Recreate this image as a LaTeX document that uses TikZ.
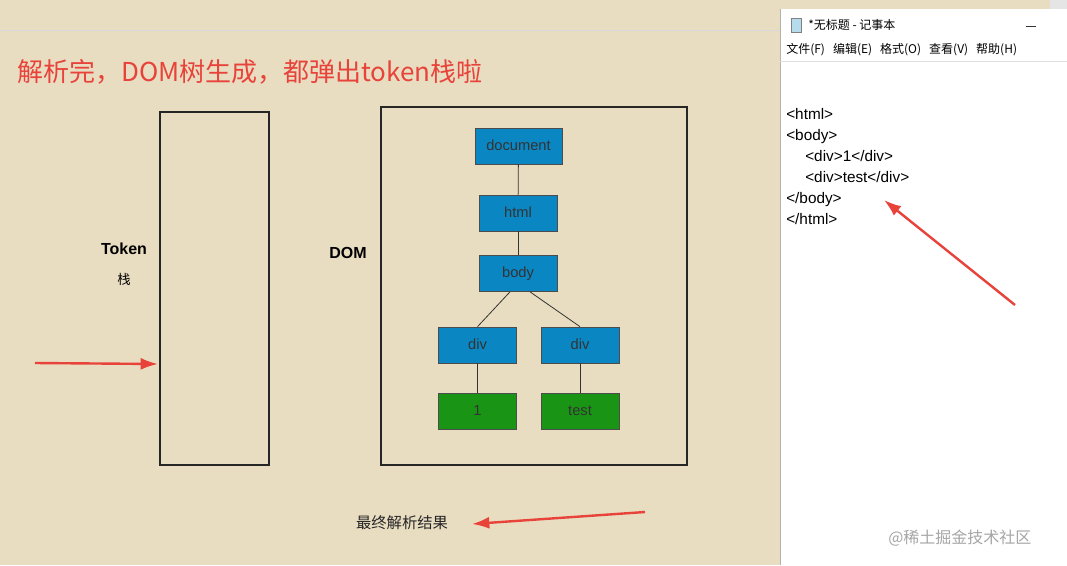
\documentclass[tikz,border=0pt]{standalone}
\usepackage{fontspec}
\setmainfont{Liberation Sans}
\newfontfamily\cjk{Noto Sans CJK SC}
\usetikzlibrary{arrows.meta}
\definecolor{bg}{HTML}{E9DDC1}
\definecolor{nblue}{HTML}{0A86C2}
\definecolor{ngreen}{HTML}{1A9414}
\definecolor{ared}{HTML}{E8433B}
\tikzset{
 tn/.style={draw=black!70,line width=0.5pt,minimum width=58.5pt,minimum height=27pt,inner sep=0,text height=8pt,text depth=2pt,font=\fontsize{11}{11}\selectfont,text=black!80},
 bn/.style={tn,fill=nblue},
 gn/.style={tn,fill=ngreen},
 frame/.style={draw=black!85,line width=0.9pt},
 redarrow/.style={draw=ared,line width=1.8pt,-{Latex[length=13pt,width=9pt]}},
 edge/.style={draw=black!80,line width=0.6pt},
 code/.style={anchor=base west,font=\fontsize{11.5}{11.5}\selectfont,inner sep=0}
}
\begin{document}
\begin{tikzpicture}[x=0.75pt,y=-0.75pt]
\fill[bg] (0,0) rectangle (1067,565);
\useasboundingbox (0,0) rectangle (1067,565);
\draw[black!15] (0,30) -- (780,30);
\node[anchor=west,text=ared,font=\cjk\fontsize{19.5}{19.5}\selectfont,inner sep=0] (title) at (17,72) {解析完，DOM树生成，都弹出token栈啦};
\draw[frame] (160,112) rectangle (269,465);
\node[font=\bfseries\fontsize{12}{12}\selectfont] (tok) at (124,249) {Token};
\node[font=\cjk\fontsize{10}{10}\selectfont] (zhan) at (124,279) {栈};
\draw[frame] (381,107) rectangle (687,465);
\node[font=\bfseries\fontsize{12}{12}\selectfont] (dom) at (348,253) {DOM};
\node[bn,minimum width=65pt] (doc) at (518.5,146) {document};
\node[bn] (html) at (518,213) {html};
\node[bn] (body) at (518,273.5) {body};
\node[bn] (d1) at (477.5,345) {div};
\node[bn] (d2) at (580,345) {div};
\node[gn] (one) at (477.5,411) {1};
\node[gn] (test) at (580,411) {test};
\draw[edge] (doc) -- (html);
\draw[edge] (html) -- (body);
\draw[edge] (body.south) ++(-8,0) -- (d1.north);
\draw[edge] (body.south) ++(12,0) -- (d2.north);
\draw[edge] (d1) -- (one);
\draw[edge] (d2) -- (test);
\coordinate (a1s) at (35,363);
\coordinate (a1e) at (158,364);
\draw[redarrow] (a1s) -- (a1e);
\node[font=\cjk\fontsize{11.5}{11.5}\selectfont,text=black!85] (res) at (402,523) {最终解析结果};
\coordinate (a2s) at (645,512);
\coordinate (a2e) at (472,524);
\draw[redarrow] (a2s) -- (a2e);
% notepad
\fill[white] (780,9) rectangle (1067,565);
\draw[black!30] (780,9) -- (780,565);
\fill[black!10] (1050,0) rectangle (1067,9);
\draw[black!50,fill=nblue!30] (791,18) rectangle (801,32);
\node[anchor=west,font=\cjk\fontsize{9}{9}\selectfont,inner sep=0] (wt) at (808,25) {*无标题 - 记事本};
\draw[black!80] (1026,26) -- (1036,26);
\node[anchor=west,font=\cjk\fontsize{9}{9}\selectfont,inner sep=0] (menu) at (786,50) {文件(F)\hspace{6pt}编辑(E)\hspace{6pt}格式(O)\hspace{6pt}查看(V)\hspace{6pt}帮助(H)};
\draw[black!12] (780,61) -- (1067,61);
\node[code] (c1) at (786,119) {<html>};
\node[code] (c2) at (786,140) {<body>};
\node[code] (c3) at (805,161) {<div>1</div>};
\node[code] (c4) at (805,182) {<div>test</div>};
\node[code] (c5) at (786,203) {</body>};
\node[code] (c6) at (786,224) {</html>};
\coordinate (a3s) at (1015,305);
\coordinate (a3e) at (884,200);
\draw[redarrow] (a3s) -- (a3e);
\node[anchor=west,font=\cjk\fontsize{12}{12}\selectfont,text=black!35,inner sep=0] (wm) at (888,538) {@稀土掘金技术社区};
\end{tikzpicture}
\end{document}
